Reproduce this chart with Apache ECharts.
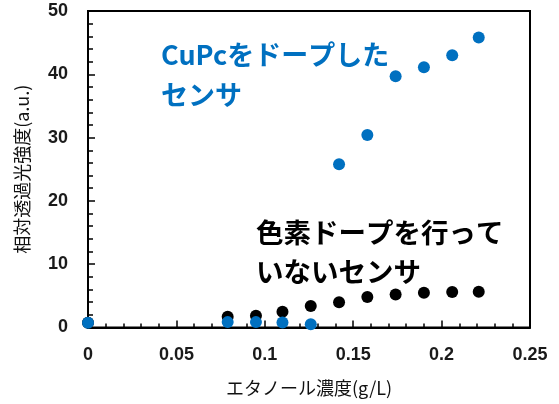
<!DOCTYPE html>
<html>
<head>
<meta charset="utf-8">
<script src="https://cdn.jsdelivr.net/npm/echarts@6/dist/echarts.min.js"></script>
<style>
html,body{margin:0;padding:0;background:#fff;}
#chart{width:559px;height:404px;}
</style>
</head>
<body>
<div id="chart"></div>
<script>
// Data
const cupcX = [0, 0.079, 0.095, 0.110, 0.126, 0.142, 0.158, 0.174, 0.190, 0.206, 0.221];
const cupcY = [0.76, 0.85, 0.85, 0.8, 0.5, 25.8, 30.4, 39.7, 41.1, 43.0, 45.8];
const plainX = [0, 0.079, 0.095, 0.110, 0.126, 0.142, 0.158, 0.174, 0.190, 0.206, 0.221];
const plainY = [0.76, 1.7, 1.86, 2.5, 3.4, 4.0, 4.8, 5.2, 5.5, 5.6, 5.65];
const xName = 'エタノール濃度(g/L)';
const yName = '相対透過光強度(a.u.)';
const cupcLabel = 'CuPcをドープした\nセンサ';
const plainLabel = '色素ドープを行って\nいないセンサ';

const cupcData = cupcX.map((x, i) => [x, cupcY[i]]);
const plainData = plainX.map((x, i) => [x, plainY[i]]);

const chart = echarts.init(document.getElementById('chart'), null, {renderer: 'canvas'});
const tickFont = {fontFamily: 'Liberation Sans', fontWeight: 'bold', fontSize: 18, color: '#1a1a1a'};
const nameFont = {fontFamily: 'Noto Sans CJK JP', fontSize: 18, color: '#111'};

chart.setOption({
  animation: false,
  backgroundColor: '#fff',
  grid: {left: 88, right: 29, top: 11, bottom: 76.5, show: true, borderColor: '#000', borderWidth: 2, backgroundColor: 'transparent'},
  xAxis: {
    type: 'value', min: 0, max: 0.25, interval: 0.05,
    name: xName, nameLocation: 'middle', nameGap: 52, nameTextStyle: nameFont,
    axisLine: {show: true, onZero: false, lineStyle: {color: '#000', width: 2}},
    axisTick: {show: true, inside: true, length: 7, lineStyle: {color: '#000', width: 1.5}},
    minorTick: {show: true, splitNumber: 5, length: 4, lineStyle: {color: '#000', width: 1.5}},
    axisLabel: Object.assign({margin: 19}, tickFont),
    splitLine: {show: false}
  },
  yAxis: {
    type: 'value', min: 0, max: 50, interval: 10,
    name: yName, nameLocation: 'middle', nameGap: 57, nameTextStyle: nameFont,
    axisLine: {show: true, onZero: false, lineStyle: {color: '#000', width: 2}},
    axisTick: {show: true, inside: true, length: 7, lineStyle: {color: '#000', width: 1.5}},
    minorTick: {show: true, splitNumber: 5, length: 5, lineStyle: {color: '#000', width: 1.5}},
    axisLabel: Object.assign({margin: 20}, tickFont),
    splitLine: {show: false}
  },
  series: [
    {type: 'scatter', name: 'plain', data: plainData, symbol: 'circle', symbolSize: 12, itemStyle: {color: '#000', opacity: 1}, z: 2},
    {type: 'scatter', name: 'cupc', data: cupcData, symbol: 'circle', symbolSize: 12, itemStyle: {color: '#0070C0', opacity: 1}, z: 3}
  ],
  graphic: [
    {type: 'text', left: 161, top: 35, style: {text: cupcLabel, fill: '#0070C0', fontFamily: 'Noto Sans CJK JP', fontWeight: 'bold', fontSize: 27, lineHeight: 40}},
    {type: 'text', left: 256, top: 213, style: {text: plainLabel, fill: '#000', fontFamily: 'Noto Sans CJK JP', fontWeight: 'bold', fontSize: 27.5, lineHeight: 39}}
  ]
});
</script>
</body>
</html>
